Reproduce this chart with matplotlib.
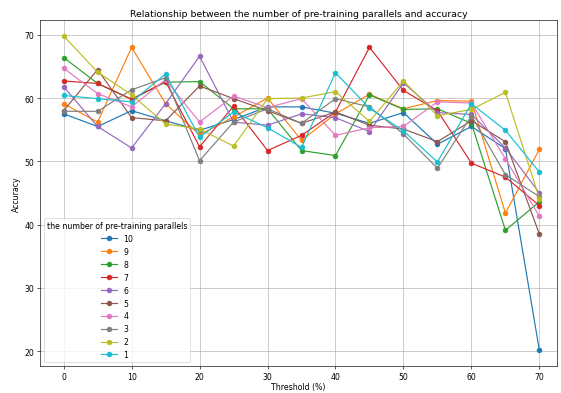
import numpy as np
import matplotlib
matplotlib.use('Agg')
import matplotlib.pyplot as plt

# пороги (%)
thresholds = [0, 5, 10, 15, 20, 25, 30, 35, 40, 45, 50, 55, 60, 65, 70]

# точность для разного числа параллелей предобучения
acc_10 = [57.5, 55.5, 58.0, 56.4, 54.9, 56.6, 58.6, 58.6, 57.6, 56.0, 57.7, 52.7, 55.5, 52.0, 20.1]
acc_9 = [59.1, 56.2, 68.0, 59.1, 54.2, 57.0, 60.0, 53.3, 57.5, 60.6, 58.3, 59.6, 59.5, 41.8, 51.9]
acc_8 = [66.4, 62.3, 59.8, 62.5, 62.6, 58.3, 58.3, 51.7, 50.9, 60.5, 58.2, 58.3, 56.0, 39.1, 43.6]
acc_7 = [62.7, 62.3, 59.8, 62.6, 52.3, 58.7, 51.7, 54.1, 57.8, 68.0, 61.2, 58.0, 49.7, 47.5, 43.0]
acc_6 = [61.8, 55.5, 52.1, 59.1, 66.6, 56.2, 55.7, 57.5, 56.9, 54.7, 62.4, 57.7, 57.4, 52.1, 45.0]
acc_5 = [58.0, 64.5, 56.9, 56.4, 61.9, 59.9, 58.0, 56.0, 57.8, 55.7, 55.1, 53.1, 56.4, 53.1, 38.5]
acc_4 = [64.7, 60.7, 58.6, 62.9, 56.2, 60.3, 58.5, 59.9, 54.1, 55.3, 55.5, 59.4, 59.2, 50.4, 41.3]
acc_3 = [57.9, 57.9, 61.3, 63.2, 50.1, 56.2, 58.3, 56.0, 59.9, 58.6, 54.3, 48.9, 57.2, 47.9, 44.4]
acc_2 = [69.8, 64.1, 60.5, 55.9, 55.1, 52.4, 59.9, 60.0, 61.0, 56.3, 62.7, 57.2, 58.2, 60.9, 44.1]
acc_1 = [60.4, 59.9, 59.4, 63.8, 53.8, 57.8, 55.3, 52.2, 64.0, 58.4, 54.8, 49.9, 59.1, 54.9, 48.3]

labels = ['10', '9', '8', '7', '6', '5', '4', '3', '2', '1']
series = [acc_10, acc_9, acc_8, acc_7, acc_6, acc_5, acc_4, acc_3, acc_2, acc_1]

fig = plt.figure(figsize=(10, 7.023), dpi=56.1)
ax = fig.add_subplot(111)
fig.subplots_adjust(left=0.071, right=0.993, top=0.946, bottom=0.068)

for lab, vals in zip(labels, series):
    ax.plot(thresholds, vals, marker='o', label=lab)

ax.set_xlim(-3.5, 72.6)
ax.set_title('Relationship between the number of pre-training parallels and accuracy')
ax.set_xlabel('Threshold (%)', labelpad=2)
ax.set_ylabel('Accuracy')
ax.grid(True)
ax.legend(title='the number of pre-training parallels', loc='lower left')

fig.savefig('out.png', dpi=56.1)
